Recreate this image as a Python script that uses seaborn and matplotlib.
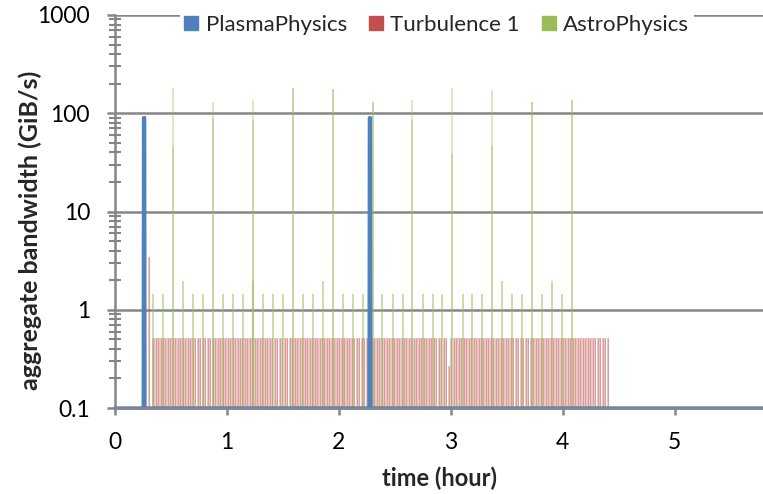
import numpy as np
import pandas as pd
import matplotlib
matplotlib.use("Agg")
import matplotlib.pyplot as plt
import seaborn as sns
from matplotlib.lines import Line2D
from matplotlib.ticker import FixedLocator, FixedFormatter, LogLocator, NullFormatter

# ---- data ----
# PlasmaPhysics: sits at the 0.1 floor, two short bursts of ~90 GiB/s
blue_time = [0.0, 0.252, 0.255, 0.265, 0.268, 2.270, 2.273, 2.283, 2.286, 5.79]
blue_bw = [0.1, 0.1, 90, 90, 0.1, 0.1, 90, 90, 0.1, 0.1]

# Turbulence 1: first burst, then a steady plateau with one dip
red_first_time = 0.305
red_first_bw = 3.45
red_start, red_end, red_step = 0.34, 4.41, 0.0222   # sampling interval (h)
red_level = 0.52
red_dip_time = 2.98
red_dip_bw = 0.27

# AstroPhysics: small periodic writes plus large checkpoints
green_small_time = [0.337, 0.426, 0.605, 0.694, 0.783, 0.962, 1.051, 1.140, 1.230,
                    1.319, 1.408, 1.498, 1.676, 1.765, 1.855, 2.033, 2.123, 2.212,
                    2.390, 2.480, 2.569, 2.748, 2.837, 2.926, 3.105, 3.194, 3.283,
                    3.462, 3.551, 3.640, 3.819, 3.908, 3.998]
green_small_bw = [1.45, 1.45, 1.95, 1.45, 1.45, 1.45, 1.45, 1.45, 1.95,
                  1.45, 1.45, 1.45, 1.45, 1.45, 1.95, 1.45, 1.45, 1.45,
                  1.45, 1.45, 1.45, 1.45, 1.45, 1.45, 1.45, 1.45, 1.45,
                  1.95, 1.45, 1.45, 1.45, 1.95, 1.45]
green_big_time = [0.515, 0.873, 1.230, 1.587, 1.944, 2.301, 2.658, 3.015, 3.373, 3.730, 4.087]
green_big_bw = [179, 131, 137, 180, 176, 130, 138, 180, 174, 129, 138]
green_big_bw2 = [46, 90, 85, 180, 176, 130, 85, 39, 48, 129, 138]

series = ["PlasmaPhysics", "Turbulence 1", "AstroPhysics"]
colors = ["#4f81bd", "#c0504d", "#9bbb59"]

# ---- assemble red series ----
red_time = list(np.arange(red_start, red_end, red_step))
red_bw = [red_dip_bw if abs(t - red_dip_time) < red_step / 2 else red_level for t in red_time]
red_time = [red_first_time] + red_time
red_bw = [red_first_bw] + red_bw

sns.set_theme(style="white")
plt.rcParams["font.family"] = ["Lato", "DejaVu Sans"]

W, H = 763, 494
fig = plt.figure(figsize=(W / 100, H / 100), dpi=100)
ax = fig.add_axes([115 / W, 86 / H, 648 / W, 393 / H])
ax.set_yscale("log")
ax.set_ylim(0.1, 1000)
ax.set_xlim(0, 5.79)

grey = "#868686"

# Turbulence 1 bars (bars start at the 0.1 floor of the log axis)
ax.bar(red_time, [v - 0.1 for v in red_bw], width=red_step * 0.95, bottom=0.1,
       color=colors[1], alpha=0.32, linewidth=0, zorder=2)
ax.vlines(red_time, 0.1, red_bw, color=colors[1], lw=0.7, alpha=0.35, zorder=2)

# AstroPhysics spikes
ax.vlines(green_small_time, 0.1, green_small_bw, color=colors[2], lw=1.2, alpha=0.6, zorder=3)
ax.vlines(green_big_time, 0.1, green_big_bw, color=colors[2], lw=1.2, alpha=0.4, zorder=3)
ax.vlines(green_big_time, 0.1, green_big_bw2, color=colors[2], lw=1.2, alpha=0.4, zorder=3)

# PlasmaPhysics line
blue_df = pd.DataFrame({"time": blue_time, "bw": blue_bw})
sns.lineplot(data=blue_df, x="time", y="bw", estimator=None, sort=False, ax=ax,
             color=colors[0], lw=2.4, zorder=4, clip_on=False)

# axes styling (Excel look)
ax.set_axisbelow(True)
ax.yaxis.grid(True, which="major", color=grey, lw=1.8)
ax.xaxis.grid(False)
for s in ["top", "right"]:
    ax.spines[s].set_visible(False)
for s in ["left", "bottom"]:
    ax.spines[s].set_color(grey)
    ax.spines[s].set_linewidth(1.8)
    ax.spines[s].set_zorder(5)

yt = [0.1, 1, 10, 100, 1000]
ax.yaxis.set_major_locator(FixedLocator(yt))
ax.yaxis.set_major_formatter(FixedFormatter(["0.1", "1", "10", "100", "1000"]))
ax.yaxis.set_minor_locator(LogLocator(base=10, subs=np.arange(2, 10), numticks=20))
ax.yaxis.set_minor_formatter(NullFormatter())
ax.tick_params(axis="y", which="major", direction="out", length=6, width=1.8,
               color=grey, pad=12, labelsize=16.5, labelcolor="black", left=True)
ax.tick_params(axis="y", which="minor", direction="inout", length=8, width=1.5,
               color=grey, left=True)

ax.set_xticks([0, 1, 2, 3, 4, 5])
ax.tick_params(axis="x", which="major", direction="out", length=5, width=1.8,
               color=grey, pad=12, labelsize=16.5, labelcolor="black", bottom=True)

ax.set_xlabel("time (hour)", fontsize=17, fontweight="bold", labelpad=10)
ax.set_ylabel("aggregate bandwidth (GiB/s)", fontsize=18, fontweight="bold")
ax.yaxis.set_label_coords(-73 / 648, 0.453)

handles = [Line2D([], [], marker="s", ls="", color=c, markersize=10) for c in colors]
leg = ax.legend(handles, series, loc="center", bbox_to_anchor=(0.497, 0.975), ncol=3,
                frameon=True, facecolor="white", edgecolor="none", framealpha=1,
                fontsize=16, handlelength=0.6, handletextpad=0.35, columnspacing=1.0,
                borderpad=0.2)
leg.set_zorder(10)

fig.savefig("out.png", dpi=100)
